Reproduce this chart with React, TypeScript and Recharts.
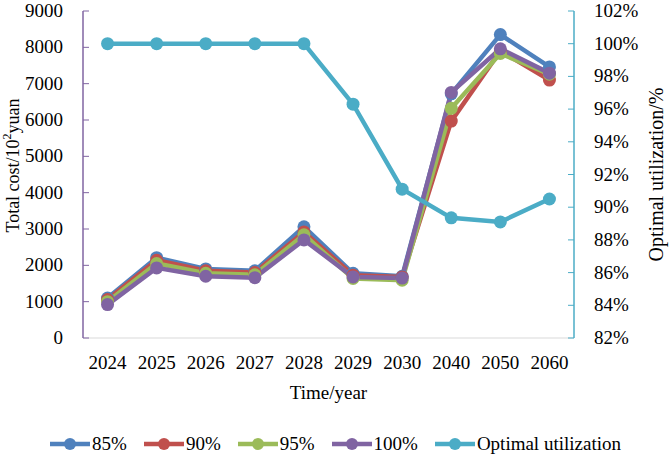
import React from 'react';
import {
  LineChart,
  Line,
  XAxis,
  YAxis,
  Legend,
  Label,
} from 'recharts';

const years = ['2024', '2025', '2026', '2027', '2028', '2029', '2030', '2040', '2050', '2060'];
const cost85 = [1100, 2210, 1900, 1850, 3060, 1780, 1700, 6720, 8350, 7460];
const cost90 = [1060, 2140, 1850, 1800, 2920, 1730, 1680, 5970, 7900, 7100];
const cost95 = [1000, 2050, 1780, 1740, 2840, 1640, 1590, 6320, 7830, 7260];
const cost100 = [920, 1930, 1700, 1660, 2700, 1680, 1650, 6760, 7960, 7290];
const optimal = [100, 100, 100, 100, 100, 96.3, 91.1, 89.35, 89.1, 90.5];

const costTicks = [0, 1000, 2000, 3000, 4000, 5000, 6000, 7000, 8000, 9000];
const pctTicks = [82, 84, 86, 88, 90, 92, 94, 96, 98, 100, 102];

const data = years.map((year, i) => ({
  year,
  c85: cost85[i],
  c90: cost90[i],
  c95: cost95[i],
  c100: cost100[i],
  opt: optimal[i],
}));

const series = [
  { key: 'c85', name: '85%', color: '#4F81BD', axis: 'cost' },
  { key: 'c90', name: '90%', color: '#C0504D', axis: 'cost' },
  { key: 'c95', name: '95%', color: '#9BBB59', axis: 'cost' },
  { key: 'c100', name: '100%', color: '#8064A2', axis: 'cost' },
  { key: 'opt', name: 'Optimal utilization', color: '#4BACC6', axis: 'pct' },
];

const FONT = '"Liberation Serif", serif';
const W = 671;
const H = 456;
const LEFT_W = 83;
const RIGHT_W = 97;
const plotW = W - LEFT_W - RIGHT_W;
const pad = plotW / years.length / 2;

const LeftTick = (props: any) => {
  const { x, y, payload } = props;
  return (
    <g>
      <line x1={x + 20} x2={x + 26} y1={y} y2={y} stroke="#8064A2" strokeWidth={1} />
      <text x={x} y={y + 6} textAnchor="end" fontFamily={FONT} fontSize={19} fill="#000">
        {payload.value}
      </text>
    </g>
  );
};

const RightTick = (props: any) => {
  const { x, y, payload } = props;
  return (
    <g>
      <line x1={x - 26} x2={x - 20} y1={y} y2={y} stroke="#4BACC6" strokeWidth={1} />
      <text x={x} y={y + 6} textAnchor="start" fontFamily={FONT} fontSize={19} fill="#000">
        {payload.value}%
      </text>
    </g>
  );
};

const BottomTick = (props: any) => {
  const { x, y, payload } = props;
  return (
    <text x={x} y={y + 31} textAnchor="middle" fontFamily={FONT} fontSize={19} fill="#000">
      {payload.value}
    </text>
  );
};

const LegendContent = (props: any) => {
  const payload = [...(props.payload || [])].sort(
    (a: any, b: any) =>
      series.findIndex((s) => s.name === a.value) - series.findIndex((s) => s.name === b.value),
  );
  return (
    <div
      style={{
        display: 'flex',
        justifyContent: 'center',
        alignItems: 'center',
        gap: 17,
        height: 24,
        fontFamily: FONT,
        fontSize: 19,
        color: '#000',
      }}
    >
      {payload.map((entry: any) => (
        <div key={entry.value} style={{ display: 'flex', alignItems: 'center' }}>
          <svg width={42} height={16}>
            <line x1={0} x2={40} y1={8} y2={8} stroke={entry.color} strokeWidth={4.5} />
            <circle cx={20} cy={8} r={6} fill={entry.color} />
          </svg>
          <span>{entry.value}</span>
        </div>
      ))}
    </div>
  );
};

export default function App() {
  return (
    <div style={{ position: 'absolute', left: 0, top: 0, width: W, height: H, background: '#fff' }}>
      <LineChart width={W} height={H} data={data} margin={{ top: 11, right: 0, bottom: 0, left: 0 }}>
        <XAxis
          dataKey="year"
          height={94}
          padding={{ left: pad, right: pad }}
          tickLine={false}
          tickSize={0}
          tickMargin={0}
          interval={0}
          axisLine={{ stroke: '#D9D9D9', strokeWidth: 1 }}
          tick={<BottomTick />}
        >
          <Label
            content={(p: any) => {
              const vb = p.viewBox;
              return (
                <text
                  x={vb.x + vb.width / 2}
                  y={vb.y + 61}
                  textAnchor="middle"
                  fontFamily={FONT}
                  fontSize={19}
                  fill="#000"
                >
                  Time/year
                </text>
              );
            }}
          />
        </XAxis>
        <YAxis
          yAxisId="cost"
          orientation="left"
          width={LEFT_W}
          domain={[0, 9000]}
          ticks={costTicks}
          interval={0}
          tickLine={false}
          tickSize={0}
          tickMargin={20}
          axisLine={{ stroke: '#8064A2', strokeWidth: 1.5 }}
          tick={<LeftTick />}
        >
          <Label
            content={(p: any) => {
              const vb = p.viewBox;
              const cx = vb.x + 13;
              const cy = vb.y + vb.height / 2 - 9;
              return (
                <text
                  transform={`translate(${cx},${cy}) rotate(-90)`}
                  textAnchor="middle"
                  dominantBaseline="central"
                  fontFamily={FONT}
                  fontSize={18}
                  fill="#000"
                >
                  Total cost/10
                  <tspan fontSize={12} dy={-6}>2</tspan>
                  <tspan dy={6}>yuan</tspan>
                </text>
              );
            }}
          />
        </YAxis>
        <YAxis
          yAxisId="pct"
          orientation="right"
          width={RIGHT_W}
          domain={[82, 102]}
          ticks={pctTicks}
          interval={0}
          tickLine={false}
          tickSize={0}
          tickMargin={20}
          axisLine={{ stroke: '#4BACC6', strokeWidth: 1.5 }}
          tick={<RightTick />}
        >
          <Label
            content={(p: any) => {
              const vb = p.viewBox;
              const cx = vb.x + 82;
              const cy = vb.y + vb.height / 2;
              return (
                <text
                  transform={`translate(${cx},${cy}) rotate(-90)`}
                  textAnchor="middle"
                  dominantBaseline="central"
                  fontFamily={FONT}
                  fontSize={20}
                  fill="#000"
                >
                  Optimal utilization/%
                </text>
              );
            }}
          />
        </YAxis>
        {series.map((s) => (
          <Line
            key={s.key}
            yAxisId={s.axis}
            dataKey={s.key}
            name={s.name}
            stroke={s.color}
            strokeWidth={4.5}
            dot={{ r: 6.5, fill: s.color, stroke: s.color, strokeWidth: 0 }}
            activeDot={false}
            isAnimationActive={false}
          />
        ))}
        <Legend verticalAlign="bottom" wrapperStyle={{ height: 24 }} content={<LegendContent />} />
      </LineChart>
    </div>
  );
}
